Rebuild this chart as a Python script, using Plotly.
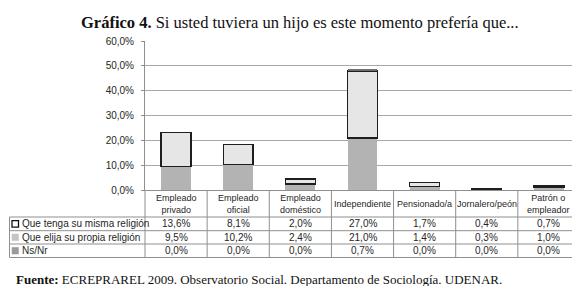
import plotly.graph_objects as go

# ---------------- data ----------------
categories = ["Empleado privado", "Empleado oficial", "Empleado doméstico", "Independiente",
              "Pensionado/a", "Jornalero/peón", "Patrón o empleador"]
header_labels = ["Empleado<br>privado", "Empleado<br>oficial", "Empleado<br>doméstico", "Independiente",
                 "Pensionado/a", "Jornalero/peón", "Patrón o<br>empleador"]
misma_religion = [13.6, 8.1, 2.0, 27.0, 1.7, 0.4, 0.7]
propia_religion = [9.5, 10.2, 2.4, 21.0, 1.4, 0.3, 1.0]
ns_nr = [0.0, 0.0, 0.0, 0.7, 0.0, 0.0, 0.0]
series_names = ["Que tenga su misma religión", "Que elija su propia religión", "Ns/Nr"]
ytick_vals = [0, 10, 20, 30, 40, 50, 60]
ytick_text = ["0,0%", "10,0%", "20,0%", "30,0%", "40,0%", "50,0%", "60,0%"]
title_bold = "Gráfico 4."
title_rest = "Si usted tuviera un hijo es este momento prefería que..."
source_bold = "Fuente:"
source_rest = "ECREPRAREL 2009. Observatorio Social. Departamento de Sociología. UDENAR."

# ---------------- layout constants ----------------
FW, FH = 580, 286
ML, MR, MT, MB = 137, 8, 33, 104
PW = FW - ML - MR
PH = FH - MT - MB
SANS = "Liberation Sans, Arial, sans-serif"
SERIF = "Liberation Serif, Times New Roman, serif"
LINE_COL = "#8f8f8f"
TXT_COL = "#262626"
COL_MISMA = "#e6e6e6"
COL_PROPIA = "#b3b3b3"
COL_NS = "#6e6e6e"


def px(xp):
    return (xp - ML) / PW


def py(yp):
    return (MT + PH - yp) / PH


def fmt(v):
    return f"{v:.1f}%".replace(".", ",")


fig = go.Figure()
fig.add_trace(go.Bar(x=categories, y=propia_religion, name=series_names[1],
                     marker=dict(color=COL_PROPIA, line=dict(width=0)), width=0.48))
fig.add_trace(go.Bar(x=categories, y=misma_religion, name=series_names[0],
                     marker=dict(color=COL_MISMA, line=dict(width=1.5, color="#1e1e1e")), width=0.48))
fig.add_trace(go.Bar(x=categories, y=ns_nr, name=series_names[2],
                     marker=dict(color=COL_NS, line=dict(width=0)), width=0.48))

shapes = []
annotations = []
n = len(categories)
table_top = MT + PH
row_lines = [209, 222.7, 236, 249.5]
left_edge = 1.5

# horizontal lines
for i, yl in enumerate(row_lines):
    shapes.append(dict(type="line", xref="paper", yref="paper", x0=px(left_edge), x1=1,
                       y0=py(yl), y1=py(yl), line=dict(color=LINE_COL, width=1)))
# vertical lines
shapes.append(dict(type="line", xref="paper", yref="paper", x0=px(left_edge), x1=px(left_edge),
                   y0=py(row_lines[0]), y1=py(row_lines[-1]), line=dict(color=LINE_COL, width=1)))
for i in range(n + 1):
    xx = i / n
    shapes.append(dict(type="line", xref="paper", yref="paper", x0=xx, x1=xx,
                       y0=py(table_top), y1=py(row_lines[-1]), line=dict(color=LINE_COL, width=1)))

# header labels
for i, lab in enumerate(header_labels):
    annotations.append(dict(xref="paper", yref="paper", x=(i + 0.5) / n, y=py((table_top + row_lines[0]) / 2),
                            text=lab, showarrow=False, xanchor="center", yanchor="middle",
                            font=dict(family=SANS, size=9, color=TXT_COL)))

rows = [(series_names[0], misma_religion, "#ffffff", "#111111"),
        (series_names[1], propia_religion, "#c4c4c4", "#c4c4c4"),
        (series_names[2], ns_nr, "#9a9a9a", "#9a9a9a")]
for r, (name, vals, fc, lc) in enumerate(rows):
    y0p, y1p = row_lines[r], row_lines[r + 1]
    yc = (y0p + y1p) / 2
    shapes.append(dict(type="rect", xref="paper", yref="paper", x0=px(4), x1=px(10.5),
                       y0=py(yc - 3.3), y1=py(yc + 3.3), fillcolor=fc,
                       line=dict(color=lc, width=1.3 if r == 0 else 0.5)))
    annotations.append(dict(xref="paper", yref="paper", x=px(11.5), y=py(yc), text=name,
                            showarrow=False, xanchor="left", yanchor="middle",
                            font=dict(family=SANS, size=10, color=TXT_COL)))
    for i, v in enumerate(vals):
        annotations.append(dict(xref="paper", yref="paper", x=(i + 0.5) / n, y=py(yc), text=fmt(v),
                                showarrow=False, xanchor="center", yanchor="middle",
                                font=dict(family=SANS, size=10, color=TXT_COL)))

# title and source
annotations.append(dict(xref="paper", yref="paper", x=px(292), y=py(14),
                        text=f"<b>{title_bold}</b> {title_rest}", showarrow=False,
                        xanchor="center", yanchor="middle",
                        font=dict(family=SERIF, size=16.5, color="#111111")))
annotations.append(dict(xref="paper", yref="paper", x=px(6), y=py(271),
                        text=f"<b>{source_bold}</b> {source_rest}", showarrow=False,
                        xanchor="left", yanchor="middle",
                        font=dict(family=SERIF, size=13, color="#111111")))

fig.update_layout(
    width=FW, height=FH,
    margin=dict(l=ML, r=MR, t=MT, b=MB, pad=0),
    paper_bgcolor="white", plot_bgcolor="white",
    barmode="stack", showlegend=False, bargap=0.5,
    shapes=shapes, annotations=annotations,
    xaxis=dict(type="category", range=[-0.5, n - 0.5], showgrid=False, showticklabels=False,
               ticks="", showline=True, linecolor=LINE_COL, linewidth=1, zeroline=False, fixedrange=True),
    yaxis=dict(range=[0, 60], tickvals=ytick_vals, ticktext=ytick_text, showgrid=True,
               gridcolor="#a8a8a8", gridwidth=1, showline=True, linecolor=LINE_COL, linewidth=1,
               ticks="outside", ticklen=3, tickcolor=LINE_COL, zeroline=False,
               tickfont=dict(family=SANS, size=10, color=TXT_COL), ticklabelstandoff=5, fixedrange=True),
)

fig.write_html("out.html")
